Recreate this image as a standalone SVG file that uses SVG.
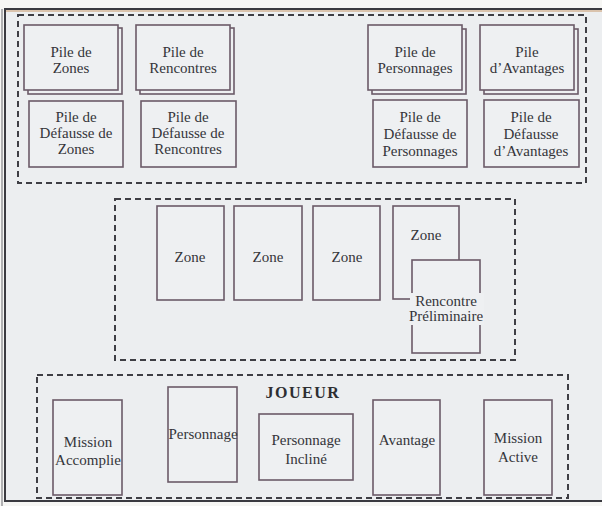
<svg xmlns="http://www.w3.org/2000/svg" width="602" height="506" viewBox="0 0 602 506">
<style>
.card{fill:#eef0f2;stroke:#6b5a68;stroke-width:1.6}
.dash{fill:none;stroke:#3e3e44;stroke-width:2;stroke-dasharray:6 4}
.t{font-family:"Liberation Serif","Times New Roman",serif;font-size:15px;fill:#35353a;text-anchor:middle}
.h{font-family:"Liberation Serif","Times New Roman",serif;font-size:16px;font-weight:bold;letter-spacing:1.5px;fill:#2e2e32;text-anchor:middle}
</style>
<rect x="0" y="0" width="602" height="506" fill="#f6f6f4"/>
<rect x="5" y="9" width="600" height="492" fill="#eceef0" stroke="#3a3a40" stroke-width="2"/>
<line x1="6" y1="11" x2="602" y2="11" stroke="#c8986a" stroke-width="1"/>
<line x1="2" y1="9" x2="2" y2="506" stroke="#6a6a70" stroke-width="1"/>

<g id="zone-piles">
<rect class="dash" x="18" y="15" width="568" height="168"/>
</g>
<g id="zone-table">
<rect class="dash" x="115" y="199" width="400" height="161"/>
</g>
<g id="zone-joueur">
<rect class="dash" x="37" y="375" width="531" height="123"/>
<text class="h" x="303" y="398">JOUEUR</text>
</g>

<g id="pile-zones">
<rect class="card" x="28" y="28" width="94" height="66"/>
<rect class="card" x="24" y="25" width="94" height="65"/>
<text class="t" x="71" y="57">Pile de</text>
<text class="t" x="71" y="73">Zones</text>
</g>
<g id="pile-rencontres">
<rect class="card" x="140" y="28" width="94" height="66"/>
<rect class="card" x="136" y="25" width="94" height="65"/>
<text class="t" x="183" y="57">Pile de</text>
<text class="t" x="183" y="73">Rencontres</text>
</g>
<g id="defausse-zones">
<rect class="card" x="29" y="101" width="94" height="66"/>
<text class="t" x="76" y="122">Pile de</text>
<text class="t" x="76" y="138">Défausse de</text>
<text class="t" x="76" y="154">Zones</text>
</g>
<g id="defausse-rencontres">
<rect class="card" x="141" y="101" width="95" height="66"/>
<text class="t" x="188" y="122">Pile de</text>
<text class="t" x="188" y="138">Défausse de</text>
<text class="t" x="188" y="154">Rencontres</text>
</g>
<g id="pile-personnages">
<rect class="card" x="372" y="29" width="94" height="65"/>
<rect class="card" x="368" y="25" width="94" height="65"/>
<text class="t" x="415" y="57">Pile de</text>
<text class="t" x="415" y="73">Personnages</text>
</g>
<g id="pile-avantages">
<rect class="card" x="484" y="29" width="94" height="65"/>
<rect class="card" x="480" y="25" width="94" height="65"/>
<text class="t" x="527" y="57">Pile</text>
<text class="t" x="527" y="73">d’Avantages</text>
</g>
<g id="defausse-personnages">
<rect class="card" x="373" y="100" width="94" height="67"/>
<text class="t" x="420" y="122">Pile de</text>
<text class="t" x="420" y="139">Défausse de</text>
<text class="t" x="420" y="156">Personnages</text>
</g>
<g id="defausse-avantages">
<rect class="card" x="484" y="100" width="95" height="67"/>
<text class="t" x="531" y="122">Pile de</text>
<text class="t" x="531" y="139">Défausse</text>
<text class="t" x="531" y="156">d’Avantages</text>
</g>

<g id="zone-1">
<rect class="card" x="157" y="206" width="67" height="94"/>
<text class="t" x="190" y="262">Zone</text>
</g>
<g id="zone-2">
<rect class="card" x="234" y="206" width="68" height="94"/>
<text class="t" x="268" y="262">Zone</text>
</g>
<g id="zone-3">
<rect class="card" x="313" y="206" width="67" height="94"/>
<text class="t" x="347" y="262">Zone</text>
</g>
<g id="zone-4">
<rect class="card" x="393" y="206" width="66" height="93"/>
<text class="t" x="426" y="240">Zone</text>
</g>
<g id="rencontre-preliminaire">
<rect class="card" x="412" y="260" width="68" height="93"/>
<rect x="410" y="293" width="74" height="32" fill="#eef0f2"/>
<text class="t" x="446" y="306">Rencontre</text>
<text class="t" x="446" y="321">Préliminaire</text>
</g>

<g id="mission-accomplie">
<rect class="card" x="53" y="400" width="69" height="95"/>
<text class="t" x="88" y="447">Mission</text>
<text class="t" x="88" y="465">Accomplie</text>
</g>
<g id="personnage">
<rect class="card" x="168" y="387" width="69" height="95"/>
<text class="t" x="203" y="439">Personnage</text>
</g>
<g id="personnage-incline">
<rect class="card" x="259" y="414" width="94" height="66"/>
<text class="t" x="306" y="445">Personnage</text>
<text class="t" x="306" y="464">Incliné</text>
</g>
<g id="avantage">
<rect class="card" x="373" y="400" width="67" height="95"/>
<text class="t" x="407" y="445">Avantage</text>
</g>
<g id="mission-active">
<rect class="card" x="484" y="400" width="68" height="95"/>
<text class="t" x="518" y="443">Mission</text>
<text class="t" x="518" y="462">Active</text>
</g>
<g id="connectors"></g>
</svg>
